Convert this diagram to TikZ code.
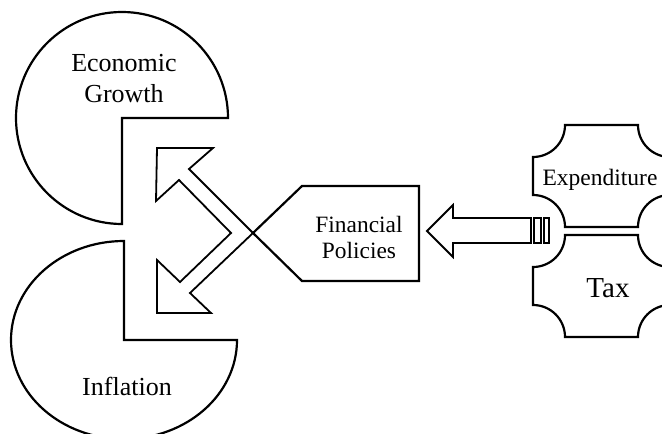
\documentclass[tikz,border=0pt]{standalone}
\usepackage{fontspec}
\setmainfont{Liberation Serif}

\tikzstyle{blob}=[draw, line width=2.2pt, line join=miter]
\tikzstyle{barrow}=[draw, line width=1.8pt, line join=miter]
\tikzstyle{lbl}=[inner sep=0pt, align=center]

\begin{document}
\begin{tikzpicture}[x=1pt, y=-1pt]
    \useasboundingbox (0,0) rectangle (662,434);
    \clip (0,0) rectangle (662,434);
    \draw[blob] (122,118) -- ++(106,0) arc[start angle=0, end angle=-270, radius=106] -- cycle;
    \draw[blob] (124,340) -- ++(113,0) arc[start angle=0, end angle=270, x radius=113, y radius=99] -- cycle;
    \node[lbl, font=\fontsize{26}{31}\selectfont] (growth) at (124,79) {Economic\\Growth};
    \node[lbl, anchor=base, font=\fontsize{26}{31}\selectfont] (inflation) at (127,395) {Inflation};
    \draw[blob] (253,233) -- (302,186) -- (419,186) -- (419,281) -- (302,281) -- cycle;
    \node[lbl, font=\fontsize{23.4}{26}\selectfont] (policies) at (359,237) {Financial\\Policies};
    \draw[barrow] (157,148) -- (213,148) -- (189,169) -- (253,233) -- (190,293) -- (211,313)
      -- (157,313) -- (157,260) -- (180,282) -- (231,233) -- (179,180) -- (156,201) -- cycle;
    \draw[barrow] (427,231) -- (453,205) -- (453,218) -- (531,218) -- (531,243) -- (453,243) -- (453,257) -- cycle;
    \draw[barrow, line width=1.4pt] (534,218) rectangle (541,243);
    \draw[barrow, line width=1.4pt] (544,218) rectangle (549,243);
    \foreach \t in {125,235}{
      \draw[blob] (565,\t) -- (638,\t) arc[start angle=180, end angle=90, radius=32] -- ++(0,38)
        arc[start angle=270, end angle=180, radius=32] -- (565,\t+102)
        arc[start angle=0, end angle=-90, radius=32] -- ++(0,-38)
        arc[start angle=90, end angle=0, radius=32] -- cycle;
    }
    \node[lbl, anchor=base, font=\fontsize{23.5}{28}\selectfont] (expend) at (600,185) {Expenditure};
    \node[lbl, anchor=base, font=\fontsize{29}{34}\selectfont] (tax) at (608,297) {Tax};
\end{tikzpicture}
\end{document}
